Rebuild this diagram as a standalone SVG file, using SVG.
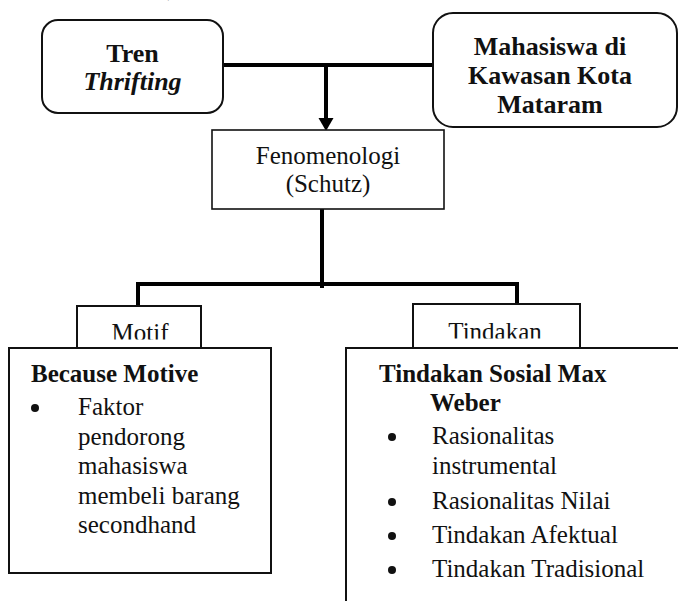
<svg xmlns="http://www.w3.org/2000/svg" width="678" height="601" viewBox="0 0 678 601">
<defs>
<style>
text{font-family:"Liberation Serif","Times New Roman",serif;fill:#111;}
.t{font-size:25px;}
.b{font-size:25px;font-weight:bold;}
.top{font-size:26px;font-weight:bold;}
.box{fill:#fff;stroke:#111;stroke-width:2;}
.thin{fill:#fff;stroke:#111;stroke-width:1.6;}
.con{fill:none;stroke:#000;stroke-width:4;}
.mid{text-anchor:middle;}
</style>
<clipPath id="cMotif"><rect x="78" y="300" width="122" height="39.5"/></clipPath>
<clipPath id="cTind"><rect x="414" y="300" width="165" height="38.5"/></clipPath>
<clipPath id="cMat"><rect x="434" y="14" width="242" height="100"/></clipPath>
</defs>
<rect width="678" height="601" fill="#fff"/>
<text class="t" x="167" y="-3">,</text>
<g id="connectors">
<line class="con" x1="223" y1="65" x2="433" y2="65"/>
<line class="con" x1="326" y1="65" x2="326" y2="119"/>
<polygon points="318.5,118 333.5,118 326,131" fill="#000"/>
<line class="con" x1="322" y1="209" x2="322" y2="288"/>
<line class="con" x1="136" y1="284" x2="519" y2="284"/>
<line class="con" x1="138" y1="284" x2="138" y2="306"/>
<line class="con" x1="517" y1="284" x2="517" y2="304"/>
</g>
<g id="tren">
<rect class="box" x="42" y="20" width="181" height="93" rx="16"/>
<text class="top mid" x="132.5" y="62">Tren</text>
<text class="top mid" x="132.5" y="90" font-style="italic">Thrifting</text>
</g>
<g id="mahasiswa">
<rect class="box" x="433" y="13" width="244" height="114" rx="20"/>
<g clip-path="url(#cMat)">
<text class="top mid" x="550" y="55">Mahasiswa di</text>
<text class="top mid" x="550" y="84">Kawasan Kota</text>
<text class="top mid" x="550" y="113">Mataram</text>
</g>
</g>
<g id="fenomenologi">
<rect class="thin" x="212" y="130" width="232" height="79"/>
<text class="t mid" x="328" y="164">Fenomenologi</text>
<text class="t mid" x="328" y="192">(Schutz)</text>
</g>
<g id="motif">
<rect class="box" x="77" y="306" width="124" height="42"/>
<text class="t mid" x="140" y="341" clip-path="url(#cMotif)">Motif</text>
</g>
<g id="tindakan">
<rect class="box" x="413" y="304" width="167" height="44"/>
<text class="t mid" x="495" y="340" clip-path="url(#cTind)">Tindakan</text>
</g>
<g id="because-motive">
<rect class="box" x="9" y="348" width="262" height="225"/>
<text class="b" x="31" y="382">Because Motive</text>
<circle cx="35" cy="408" r="4" fill="#111"/>
<text class="t" x="78" y="415">Faktor</text>
<text class="t" x="78" y="444.5">pendorong</text>
<text class="t" x="78" y="474">mahasiswa</text>
<text class="t" x="78" y="503.5">membeli barang</text>
<text class="t" x="78" y="533">secondhand</text>
</g>
<g id="tindakan-sosial">
<rect class="box" x="346" y="348" width="340" height="262"/>
<text class="b" x="379" y="382">Tindakan Sosial Max</text>
<text class="b" x="430" y="411">Weber</text>
<circle cx="392" cy="437" r="4" fill="#111"/>
<text class="t" x="432" y="444">Rasionalitas</text>
<text class="t" x="432" y="474">instrumental</text>
<circle cx="392" cy="502" r="4" fill="#111"/>
<text class="t" x="432" y="509">Rasionalitas Nilai</text>
<circle cx="392" cy="536" r="4" fill="#111"/>
<text class="t" x="432" y="543">Tindakan Afektual</text>
<circle cx="392" cy="570" r="4" fill="#111"/>
<text class="t" x="432" y="577">Tindakan Tradisional</text>
</g>
</svg>
